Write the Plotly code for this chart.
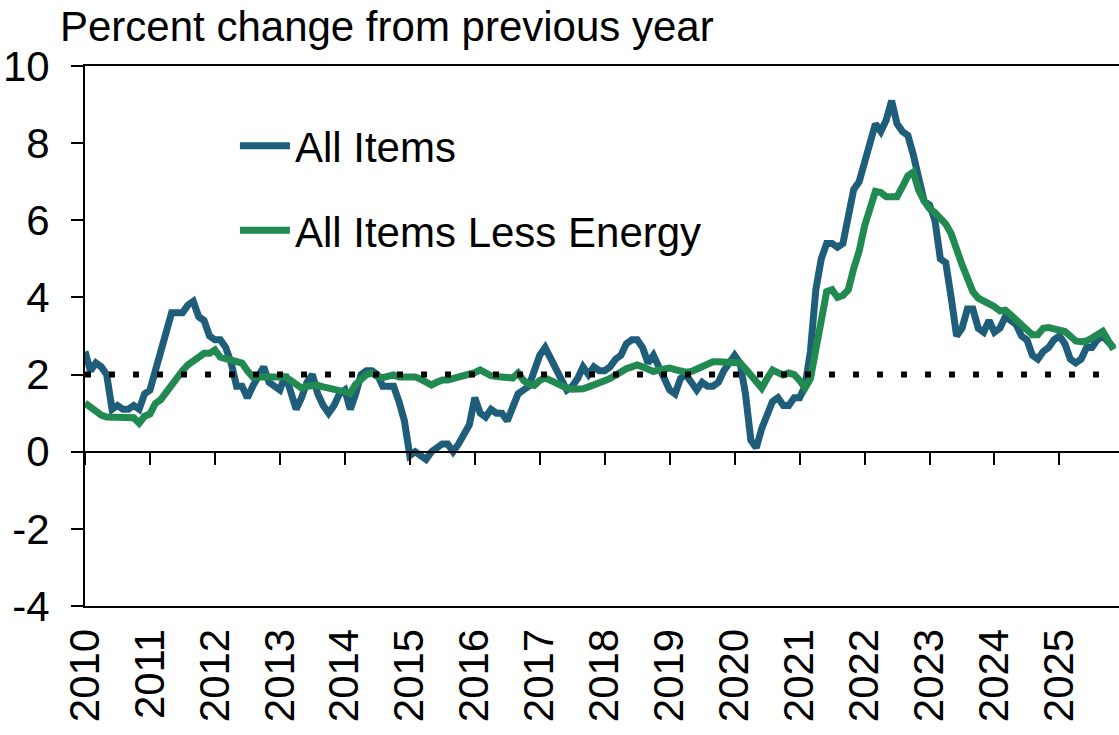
import plotly.graph_objects as go

# ---------------- data (monthly, Jan 2010 .. Nov 2025; Oct 2025 not published) ----------------
year_labels = [str(y) for y in range(2010, 2026)]
y_tick_values = list(range(-4, 11, 2))
y_tick_labels = [str(v) for v in y_tick_values]

all_items = [
    # 2010
    2.6, 2.1, 2.3, 2.2, 2.0, 1.1, 1.2, 1.1, 1.1, 1.2, 1.1, 1.5,
    # 2011
    1.6, 2.1, 2.7, 3.2, 3.6, 3.6, 3.6, 3.8, 3.9, 3.5, 3.4, 3.0,
    # 2012
    2.9, 2.9, 2.7, 2.3, 1.7, 1.7, 1.4, 1.7, 2.0, 2.2, 1.8, 1.7,
    # 2013
    1.6, 2.0, 1.5, 1.1, 1.4, 1.8, 2.0, 1.5, 1.2, 1.0, 1.2, 1.5,
    # 2014
    1.6, 1.1, 1.5, 2.0, 2.1, 2.1, 2.0, 1.7, 1.7, 1.7, 1.3, 0.8,
    # 2015
    -0.1, 0.0, -0.1, -0.2, 0.0, 0.1, 0.2, 0.2, 0.0, 0.2, 0.5, 0.7,
    # 2016
    1.4, 1.0, 0.9, 1.1, 1.0, 1.0, 0.8, 1.1, 1.5, 1.6, 1.7, 2.1,
    # 2017
    2.5, 2.7, 2.4, 2.2, 1.9, 1.6, 1.7, 1.9, 2.2, 2.0, 2.2, 2.1,
    # 2018
    2.1, 2.2, 2.4, 2.5, 2.8, 2.9, 2.9, 2.7, 2.3, 2.5, 2.2, 1.9,
    # 2019
    1.6, 1.5, 1.9, 2.0, 1.8, 1.6, 1.8, 1.7, 1.7, 1.8, 2.1, 2.3,
    # 2020
    2.5, 2.3, 1.5, 0.3, 0.1, 0.6, 1.0, 1.3, 1.4, 1.2, 1.2, 1.4,
    # 2021
    1.4, 1.7, 2.6, 4.2, 5.0, 5.4, 5.4, 5.3, 5.4, 6.2, 6.8, 7.0,
    # 2022
    7.5, 7.9, 8.5, 8.3, 8.6, 9.1, 8.5, 8.3, 8.2, 7.7, 7.1, 6.5,
    # 2023
    6.4, 6.0, 5.0, 4.9, 4.0, 3.0, 3.2, 3.7, 3.7, 3.2, 3.1, 3.4,
    # 2024
    3.1, 3.2, 3.5, 3.4, 3.3, 3.0, 2.9, 2.5, 2.4, 2.6, 2.7, 2.9,
    # 2025
    3.0, 2.8, 2.4, 2.3, 2.4, 2.7, 2.7, 2.9, 3.0, None, 2.7,
]

less_energy = [
    # 2010
    1.26, 1.15, 1.05, 0.95, 0.9, 0.9, 0.9, 0.9, 0.9, 0.88, 0.74, 0.92,
    # 2011
    0.98, 1.25, 1.35, 1.55, 1.75, 1.95, 2.1, 2.25, 2.35, 2.45, 2.55, 2.55,
    # 2012
    2.64, 2.45, 2.42, 2.4, 2.35, 2.3, 2.1, 1.94, 1.94, 1.94, 1.94, 1.94,
    # 2013
    1.94, 1.94, 1.85, 1.75, 1.65, 1.7, 1.73, 1.72, 1.68, 1.65, 1.6, 1.58,
    # 2014
    1.55, 1.52, 1.75, 1.9, 2.0, 2.04, 1.95, 1.92, 1.96, 1.99, 1.94, 1.94,
    # 2015
    1.94, 1.94, 1.88, 1.8, 1.73, 1.8, 1.86, 1.86, 1.9, 1.94, 1.94, 2.0,
    # 2016
    2.05, 2.12, 2.02, 1.97, 1.95, 1.94, 1.96, 1.91, 2.04, 1.85, 1.75, 1.72,
    # 2017
    1.85, 1.91, 1.85, 1.78, 1.7, 1.65, 1.62, 1.62, 1.63, 1.68, 1.72, 1.78,
    # 2018
    1.84, 1.9, 2.0, 2.1, 2.15, 2.2, 2.25, 2.2, 2.14, 2.08, 2.12, 2.15,
    # 2019
    2.17, 2.13, 2.08, 2.06, 2.08, 2.14, 2.2, 2.3, 2.33, 2.33, 2.33, 2.33,
    # 2020
    2.33, 2.3, 2.15, 1.97, 1.78, 1.65, 1.9, 2.12, 2.05, 1.99, 2.04, 2.0,
    # 2021
    1.85, 1.65, 1.9, 2.6, 3.25, 4.15, 4.2, 4.0, 4.05, 4.2, 4.75, 5.2,
    # 2022
    5.85, 6.35, 6.75, 6.72, 6.61, 6.61, 6.61, 6.87, 7.15, 7.25, 6.78, 6.5,
    # 2023
    6.3, 6.2, 6.05, 5.9, 5.65, 5.2, 4.85, 4.5, 4.15, 3.98, 3.92, 3.85,
    # 2024
    3.76, 3.65, 3.67, 3.55, 3.42, 3.28, 3.12, 3.03, 3.03, 3.2, 3.22, 3.2,
    # 2025
    3.14, 3.12, 3.0, 2.87, 2.85, 2.87, 2.95, 3.05, 3.12, None, 2.65,
]

target_rate = 2.0
months = list(range(len(all_items)))          # month index from Jan 2010
year_ticks = [12 * k for k in range(len(year_labels))]
axis_end = 12 * len(year_labels) - 1          # Dec 2025

BLUE = "#1F5E7A"
GREEN = "#218A50"
FONT = "Liberation Sans, Arial, sans-serif"
FS = 42

fig = go.Figure()
fig.add_trace(go.Scatter(
    x=months, y=all_items, mode="lines", name="All Items",
    line=dict(color=BLUE, width=7), connectgaps=True, legendgroup="a",
))
fig.add_trace(go.Scatter(
    x=months, y=less_energy, mode="lines", name="All Items Less Energy",
    line=dict(color=GREEN, width=7), connectgaps=True, legendgroup="b",
))
fig.add_trace(go.Scatter(
    x=[months[0], months[-1]], y=[target_rate, target_rate], mode="lines",
    xaxis="x2", line=dict(color="black", width=6, dash="6px,18px"),
    showlegend=False, hoverinfo="skip",
))

fig.update_layout(
    width=1119, height=735,
    margin=dict(l=85, r=0, t=66, b=129, autoexpand=False),
    paper_bgcolor="white", plot_bgcolor="white",
    font=dict(family=FONT, size=FS, color="black"),
    showlegend=True,
    legend=dict(
        x=0.145, y=0.915, xanchor="left", yanchor="top",
        bgcolor="rgba(0,0,0,0)", borderwidth=0,
        font=dict(family=FONT, size=FS, color="black"),
        traceorder="grouped", tracegroupgap=27, itemwidth=50,
    ),
    xaxis=dict(
        range=[0, axis_end], tickmode="array", tickvals=year_ticks, ticktext=year_labels,
        tickangle=-90, ticks="", showline=True, linecolor="black", linewidth=2,
        mirror=True, showgrid=False, zeroline=False, automargin=False,
        tickfont=dict(family=FONT, size=FS, color="black"), ticklabelstandoff=4,
    ),
    xaxis2=dict(
        overlaying="x", anchor="free", position=4 / 14, side="bottom",
        range=[0, axis_end], tickmode="array", tickvals=year_ticks,
        ticks="outside", ticklen=12, tickwidth=2, tickcolor="black",
        showticklabels=False, showline=True, linecolor="black", linewidth=2,
        showgrid=False, zeroline=False, automargin=False,
    ),
    yaxis=dict(
        range=[-4, 10], tickmode="array", tickvals=y_tick_values, ticktext=y_tick_labels,
        ticks="outside", ticklen=12, tickwidth=2, tickcolor="black",
        showline=True, linecolor="black", linewidth=2, showgrid=False, zeroline=False,
        automargin=False,
        tickfont=dict(family=FONT, size=FS, color="black"), ticklabelstandoff=13,
    ),
    annotations=[dict(
        text="Percent change from previous year", xref="paper", yref="paper",
        x=(58 - 85) / 1034, y=1 + (66 - 26) / 540, xanchor="left", yanchor="middle",
        showarrow=False, font=dict(family=FONT, size=FS, color="black"),
    )],
)

# remove the browser's default 8px body margin so the figure sits at the page origin
fig.write_html(
    "out.html",
    config={"displayModeBar": False},
    post_script="document.body.style.margin='0';",
)
